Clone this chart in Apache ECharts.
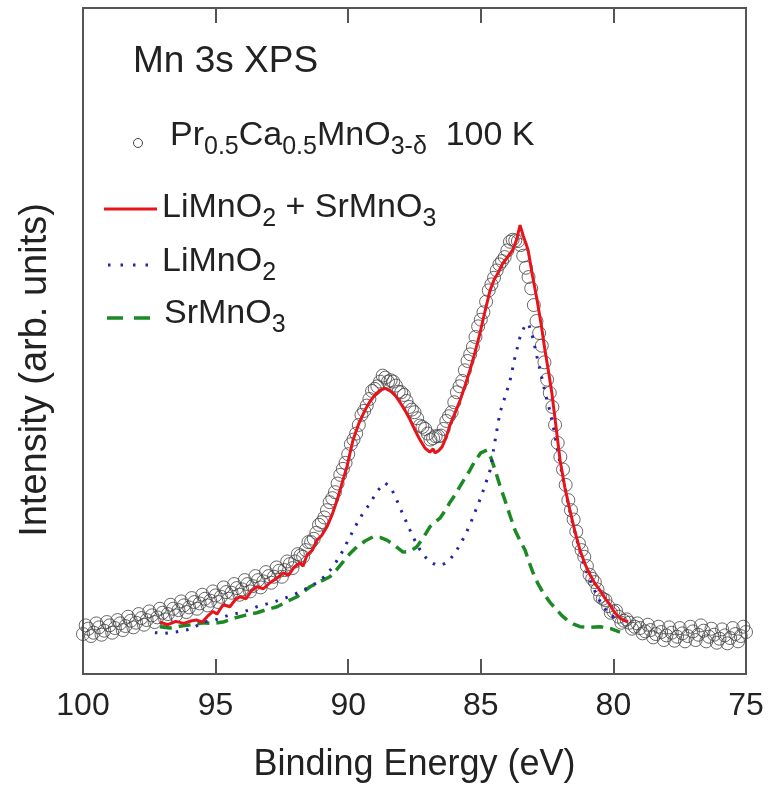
<!DOCTYPE html>
<html>
<head>
<meta charset="utf-8">
<script src="https://cdn.jsdelivr.net/npm/echarts@6/dist/echarts.min.js"></script>
<style>
html,body{margin:0;padding:0;background:#fff;}
#chart{width:780px;height:794px;}
</style>
</head>
<body>
<div id="chart"></div>
<script>
// ---- Data (binding energy in eV, intensity in arbitrary units) ----
const xTicks = [100, 95, 90, 85, 80, 75];

// Measured Pr0.5Ca0.5MnO3-δ spectrum at 100 K (open circles)
const measured = [
  [100.0,6.0],[99.9,7.3],[99.8,6.8],[99.7,5.7],[99.6,6.2],[99.5,7.6],[99.4,7.0],[99.3,5.9],
  [99.2,6.5],[99.1,7.8],[99.0,7.3],[98.9,6.2],[98.8,6.9],[98.7,8.1],[98.6,7.6],[98.5,6.6],
  [98.4,7.2],[98.3,8.6],[98.2,8.0],[98.1,7.0],[98.0,7.7],[97.9,9.0],[97.8,8.4],[97.7,7.4],
  [97.6,8.1],[97.5,9.4],[97.4,8.8],[97.3,7.8],[97.2,8.5],[97.1,9.8],[97.0,9.2],[96.9,8.2],
  [96.8,9.0],[96.7,10.4],[96.6,9.8],[96.5,8.8],[96.4,9.6],[96.3,10.9],[96.2,10.3],[96.1,9.3],
  [96.0,10.0],[95.9,11.4],[95.8,10.8],[95.7,9.8],[95.6,10.6],[95.5,11.9],[95.4,11.3],[95.3,10.3],
  [95.2,11.0],[95.1,12.4],[95.0,11.8],[94.9,10.8],[94.8,11.6],[94.7,13.0],[94.6,12.3],[94.5,11.3],
  [94.4,12.2],[94.3,13.5],[94.2,12.9],[94.1,11.9],[94.0,12.7],[93.9,14.1],[93.8,13.5],[93.7,12.4],
  [93.6,13.2],[93.5,14.7],[93.4,14.1],[93.3,13.0],[93.2,13.9],[93.1,15.3],[93.0,14.7],[92.9,13.7],
  [92.8,14.6],[92.7,16.0],[92.6,15.5],[92.5,14.6],[92.4,15.6],[92.3,16.9],[92.2,16.5],[92.1,15.9],
  [92.0,16.9],[91.9,18.0],[91.8,17.8],[91.7,17.6],[91.6,18.6],[91.5,19.8],[91.4,19.8],[91.3,20.3],
  [91.2,21.2],[91.1,22.4],[91.0,22.8],[90.9,23.5],[90.8,24.6],[90.7,25.8],[90.6,26.4],[90.5,27.3],
  [90.4,28.6],[90.3,29.9],[90.2,30.8],[90.1,31.7],[90.0,33.0],[89.9,34.5],[89.8,35.2],[89.7,36.1],
  [89.6,37.4],[89.5,38.9],[89.4,39.5],[89.3,40.3],[89.2,41.3],[89.1,42.5],[89.0,42.8],[88.9,43.2],
  [88.8,43.9],[88.7,44.8],[88.6,44.5],[88.5,43.9],[88.4,44.1],[88.3,43.9],[88.2,43.3],[88.1,42.4],
  [88.0,42.3],[87.9,41.9],[87.8,41.0],[87.7,40.1],[87.6,39.7],[87.5,39.3],[87.4,38.4],[87.3,37.3],
  [87.2,37.1],[87.1,36.8],[87.0,36.1],[86.9,35.2],[86.8,35.4],[86.7,35.7],[86.6,35.7],[86.5,35.8],
  [86.4,36.8],[86.3,38.0],[86.2,38.7],[86.1,39.3],[86.0,40.8],[85.9,42.3],[85.8,43.2],[85.7,44.0],
  [85.6,45.6],[85.5,47.0],[85.4,48.0],[85.3,49.1],[85.2,50.6],[85.1,52.2],[85.0,53.2],[84.9,54.3],
  [84.8,55.9],[84.7,57.6],[84.6,58.5],[84.5,59.5],[84.4,60.6],[84.3,61.5],[84.2,62.0],[84.1,62.6],
  [84.0,63.6],[83.9,64.9],[83.8,65.2],[83.7,65.1],[83.6,65.0],[83.5,64.4],[83.4,62.8],[83.3,61.0],
  [83.2,59.6],[83.1,57.9],[83.0,55.4],[82.9,53.0],[82.8,51.2],[82.7,49.3],[82.6,46.8],[82.5,44.2],
  [82.4,42.2],[82.3,40.1],[82.2,37.4],[82.1,34.7],[82.0,32.6],[81.9,30.7],[81.8,28.4],[81.7,26.1],
  [81.6,24.6],[81.5,23.2],[81.4,21.4],[81.3,19.6],[81.2,18.6],[81.1,17.6],[81.0,16.2],[80.9,14.9],
  [80.8,14.3],[80.7,13.8],[80.6,12.7],[80.5,11.6],[80.4,11.3],[80.3,11.1],[80.2,10.2],[80.1,9.2],
  [80.0,9.4],[79.9,9.5],[79.8,8.6],[79.7,7.7],[79.6,8.0],[79.5,8.2],[79.4,7.7],[79.3,6.8],
  [79.2,7.1],[79.1,7.6],[79.0,6.9],[78.9,6.1],[78.8,6.4],[78.7,7.4],[78.6,6.6],[78.5,5.5],
  [78.4,6.0],[78.3,7.1],[78.2,6.3],[78.1,5.1],[78.0,5.8],[77.9,7.0],[77.8,6.2],[77.7,5.0],
  [77.6,5.6],[77.5,6.9],[77.4,6.1],[77.3,4.9],[77.2,5.7],[77.1,7.1],[77.0,6.4],[76.9,5.1],
  [76.8,5.9],[76.7,7.3],[76.6,6.5],[76.5,4.9],[76.4,5.6],[76.3,6.8],[76.2,5.9],[76.1,4.7],
  [76.0,5.3],[75.9,6.7],[75.8,5.8],[75.7,4.6],[75.6,5.4],[75.5,6.9],[75.4,6.0],[75.3,4.9],
  [75.2,5.7],[75.1,7.1],[75.0,6.3]
];

// LiMnO2 + SrMnO3 (red solid)
const sumCurve = [
  [97.10,7.8],[96.8,7.4],[96.5,7.9],[96.2,7.6],[95.9,8.0],[95.7,8.1],[95.5,7.8],[95.32,8.6],
  [95.1,9.4],[94.95,9.0],[94.72,10.4],[94.46,10.1],[94.25,11.2],[94.08,11.6],[93.85,11.3],[93.65,12.5],
  [93.44,13.1],[93.2,12.8],[92.95,13.7],[92.68,14.4],[92.46,15.2],[92.25,14.8],[92.05,16.0],[91.82,16.7],
  [91.70,16.2],[91.55,17.9],[91.35,18.6],[91.18,20.1],[91.0,20.8],[90.80,22.1],[90.6,24.0],[90.42,26.1],
  [90.25,28.4],[90.05,31.1],[89.82,35.1],[89.6,37.6],[89.37,39.6],[89.18,40.9],[88.99,41.9],[88.8,42.6],
  [88.61,42.9],[88.42,42.5],[88.24,41.9],[88.05,40.8],[87.86,39.6],[87.67,38.2],[87.48,36.6],[87.30,35.2],
  [87.10,33.9],[86.92,33.3],[86.80,33.8],[86.73,33.2],[86.6,33.5],[86.46,34.1],[86.3,35.6],[86.16,37.4],
  [85.97,39.2],[85.78,41.1],[85.6,43.2],[85.41,45.6],[85.22,48.3],[85.03,51.2],[84.84,54.5],[84.65,57.6],
  [84.50,59.2],[84.35,60.2],[84.18,61.6],[84.01,62.5],[83.79,63.7],[83.65,65.2],[83.52,67.4],[83.40,65.8],
  [83.22,63.7],[83.05,59.8],[82.88,56.2],[82.72,52.4],[82.58,48.6],[82.45,45.5],[82.32,42.2],[82.16,37.0],
  [82.01,32.1],[81.83,28.0],[81.64,24.6],[81.45,21.4],[81.26,18.6],[81.07,16.5],[80.88,14.9],[80.70,13.6],
  [80.51,12.6],[80.32,11.4],[80.13,10.4],[79.95,9.2],[79.75,8.4],[79.45,7.8]
];

// LiMnO2 (blue dotted)
const liMnO2 = [
  [97.29,6.2],[96.9,6.1],[96.5,6.3],[96.1,6.6],[95.85,6.9],[95.48,7.8],[95.1,8.0],[94.8,8.4],
  [94.46,8.9],[94.08,9.2],[93.75,9.6],[93.44,10.1],[93.0,10.6],[92.5,11.2],[92.0,12.0],[91.6,12.8],
  [91.18,13.7],[90.85,14.8],[90.57,16.1],[90.23,18.3],[90.0,20.1],[89.74,22.1],[89.48,23.9],[89.18,25.6],
  [88.9,27.5],[88.61,28.7],[88.4,28.0],[88.24,26.8],[88.05,25.0],[87.86,23.3],[87.67,21.6],[87.48,20.0],
  [87.3,18.7],[87.1,17.6],[86.9,16.8],[86.7,16.4],[86.54,16.3],[86.35,16.6],[86.16,17.2],[85.97,18.2],
  [85.78,19.4],[85.6,20.8],[85.41,22.4],[85.22,24.3],[85.03,26.2],[84.85,28.2],[84.65,30.6],[84.46,35.1],
  [84.28,39.2],[84.09,41.6],[83.9,44.0],[83.71,47.6],[83.52,50.6],[83.33,52.4],[83.2,52.6],[83.03,50.4],
  [82.88,47.6],[82.7,44.5],[82.55,41.8],[82.4,39.6],[82.25,36.8],[82.1,33.5],[81.95,30.3],[81.8,27.4],
  [81.6,23.6],[81.4,20.4],[81.2,17.6],[81.0,15.3],[80.8,13.3],[80.6,11.6],[80.4,10.2],[80.2,9.2],
  [80.0,8.6],[79.85,8.2]
];

// SrMnO3 (green dashed)
const srMnO3 = [
  [97.10,7.1],[96.72,6.9],[96.3,7.2],[95.9,7.4],[95.48,7.7],[95.1,7.6],[94.72,7.8],[94.3,8.4],
  [93.9,8.8],[93.44,9.2],[93.05,9.7],[92.68,10.1],[92.3,10.9],[91.93,11.6],[91.44,13.1],[91.05,13.9],
  [90.69,14.6],[90.45,15.6],[90.2,16.8],[89.95,18.0],[89.67,19.1],[89.35,20.0],[89.06,20.6],[88.8,20.5],
  [88.54,20.1],[88.25,19.3],[87.93,18.3],[87.67,18.4],[87.41,19.1],[87.15,20.6],[86.92,22.1],[86.73,22.8],
  [86.54,23.4],[86.35,24.5],[86.16,25.8],[85.97,26.9],[85.78,28.2],[85.6,29.4],[85.41,30.6],[85.22,32.0],
  [85.0,33.2],[84.77,33.6],[84.62,32.5],[84.46,30.6],[84.28,28.3],[84.09,26.1],[83.9,23.8],[83.71,21.6],
  [83.52,20.0],[83.33,18.6],[83.18,16.8],[83.03,15.2],[82.85,13.6],[82.65,12.2],[82.4,10.8],[82.13,9.6],
  [81.95,8.8],[81.75,8.1],[81.5,7.5],[81.26,7.1],[80.9,7.0],[80.51,7.1],[80.1,6.8],[79.75,6.3]
];

// ---- Chart ----
const FONT = '"Liberation Sans", Arial, Helvetica, sans-serif';
const TXT = '#222';
const RED = '#e8141c', BLUE = '#2424a8', GREEN = '#1c8a24';

const chart = echarts.init(document.getElementById('chart'), null, {renderer: 'canvas'});

const richStyles = {
  m: {fontSize: 34, lineHeight: 48, verticalAlign: 'middle', fontFamily: FONT, color: TXT},
  s: {fontSize: 25, lineHeight: 24, verticalAlign: 'bottom', fontFamily: FONT, color: TXT}
};
function legendText(x, y, text) {
  return {type: 'text', x: x, y: y, z: 100,
    style: {text: text, fontFamily: FONT, fontSize: 34, lineHeight: 48, fill: TXT,
            verticalAlign: 'middle', align: 'left', rich: richStyles}};
}

const axisCommon = {
  type: 'value', min: 75, max: 100, interval: 5, inverse: true,
  axisLine: {show: false},
  axisTick: {show: true, inside: true, length: 15, lineStyle: {color: '#555', width: 2}},
  splitLine: {show: false}
};

const option = {
  backgroundColor: '#fff',
  animation: false,
  grid: {left: 83, right: 34, top: 8, bottom: 120, show: true,
         borderColor: '#555', borderWidth: 2, backgroundColor: 'transparent'},
  xAxis: [
    Object.assign({}, axisCommon, {
      position: 'bottom',
      axisLabel: {show: true, fontSize: 32, color: TXT, fontFamily: FONT, margin: 16,
                  formatter: v => xTicks.indexOf(v) >= 0 ? String(v) : ''},
      name: 'Binding Energy (eV)', nameLocation: 'middle', nameGap: 73,
      nameTextStyle: {fontSize: 36, color: TXT, fontFamily: FONT}
    }),
    Object.assign({}, axisCommon, {position: 'top', axisLabel: {show: false}})
  ],
  yAxis: {
    type: 'value', min: 0, max: 100,
    axisLine: {show: false}, axisTick: {show: false}, axisLabel: {show: false},
    splitLine: {show: false}
  },
  series: [
    {
      name: 'Pr0.5Ca0.5MnO3-δ 100 K', type: 'scatter', data: measured,
      symbol: 'circle', symbolSize: 13,
      itemStyle: {color: 'rgba(255,255,255,0)', borderColor: '#444', borderWidth: 1},
      z: 2
    },
    {
      name: 'SrMnO3', type: 'line', data: srMnO3, showSymbol: false,
      lineStyle: {color: GREEN, width: 3.5, type: [12, 7]}, z: 3
    },
    {
      name: 'LiMnO2', type: 'line', data: liMnO2, showSymbol: false,
      lineStyle: {color: BLUE, width: 3, type: [2.5, 8]}, z: 4
    },
    {
      name: 'LiMnO2 + SrMnO3', type: 'line', data: sumCurve, showSymbol: false,
      lineStyle: {color: RED, width: 3}, z: 5
    }
  ],
  graphic: [
    {type: 'text', x: 133, y: 62, z: 100,
     style: {text: 'Mn 3s XPS', fontFamily: FONT, fontSize: 37, fill: TXT,
             align: 'left', verticalAlign: 'middle'}},
    {type: 'circle', z: 100, shape: {cx: 138, cy: 143, r: 4.5},
     style: {fill: 'none', stroke: '#444', lineWidth: 1}},
    legendText(170, 136, '{m|Pr}{s|0.5}{m|Ca}{s|0.5}{m|MnO}{s|3-δ}{m|  100 K}'),
    {type: 'line', z: 100, shape: {x1: 104, y1: 209, x2: 157, y2: 209},
     style: {stroke: RED, lineWidth: 3}},
    legendText(162, 208, '{m|LiMnO}{s|2}{m| + SrMnO}{s|3}'),
    {type: 'line', z: 100, shape: {x1: 108, y1: 265, x2: 153, y2: 265},
     style: {stroke: BLUE, lineWidth: 3, lineDash: [2.5, 10]}},
    legendText(162, 262, '{m|LiMnO}{s|2}'),
    {type: 'line', z: 100, shape: {x1: 107, y1: 318, x2: 155, y2: 318},
     style: {stroke: GREEN, lineWidth: 3.5, lineDash: [16, 11]}},
    legendText(164, 314, '{m|SrMnO}{s|3}'),
    {type: 'text', x: 36, y: 370, rotation: Math.PI / 2, z: 100,
     style: {text: 'Intensity (arb. units)', fontFamily: FONT, fontSize: 38, fill: TXT,
             align: 'center', verticalAlign: 'middle'}}
  ]
};
chart.setOption(option);
</script>
</body>
</html>
